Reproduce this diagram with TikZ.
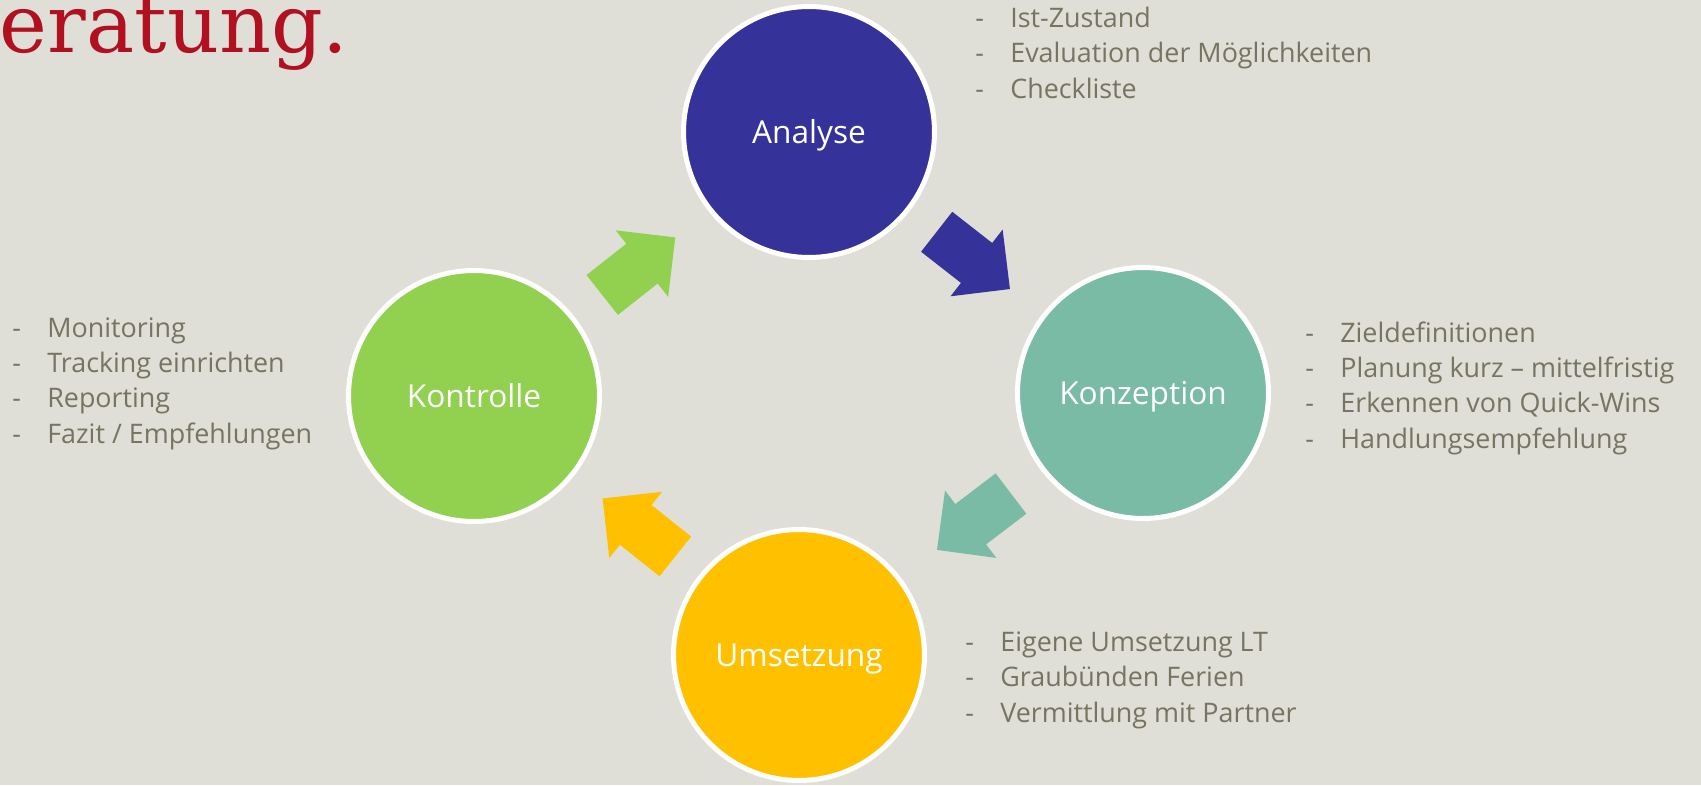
\documentclass[tikz,border=0pt]{standalone}
\usepackage{fontspec}
\setmainfont{Open Sans}
\newfontfamily\titelfont{DejaVu Serif}
\usetikzlibrary{shapes.arrows}

\definecolor{hintergrund}{RGB}{223,222,215}
\definecolor{textgrau}{RGB}{120,116,98}
\definecolor{titelrot}{RGB}{176,16,32}
\definecolor{anablau}{RGB}{53,51,153}
\definecolor{konzgruen}{RGB}{121,187,165}
\definecolor{umsgelb}{RGB}{255,192,0}
\definecolor{kontrgruen}{RGB}{146,208,80}

% dash in front of each list entry
\newcommand{\strich}[1]{\makebox[0.7cm][l]{-}#1}

\begin{document}
\begin{tikzpicture}[x=0.02cm, y=-0.02cm,
  phase/.style={circle, draw=white, line width=0.1cm, minimum size=5.02cm, inner sep=0pt,
    text=white, font=\fontsize{18}{20}\selectfont, text height=12.9pt, text depth=0pt},
  pfeil/.style={single arrow, draw=none, minimum height=1.86cm, inner xsep=0pt, inner ysep=0.5cm,
    single arrow head extend=0.34cm, single arrow tip angle=90, sloped, allow upside down, pos=0.462},
  liste/.style={align=left, anchor=base west, inner sep=0pt, text=textgrau,
    font=\fontsize{15.3}{20}\selectfont}]
\useasboundingbox (0,0) rectangle (1701,785);
\clip (0,0) rectangle (1701,785);
\fill[hintergrund] (0,0) rectangle (1701,785);

% the four phases
\node[phase, fill=anablau] (ana) at (809,132) {Analyse};
\node[phase, fill=konzgruen] (konz) at (1143,393) {Konzeption};
\node[phase, fill=umsgelb] (umsetz) at (799,655) {Umsetzung};
\node[phase, fill=kontrgruen] (kontr) at (474,396) {Kontrolle};

% block arrows between the phases
\path (ana.center) -- node[pfeil, fill=anablau] (p1) {} (konz.center);
\path (konz.center) -- node[pfeil, fill=konzgruen] (p2) {} (umsetz.center);
\path (umsetz.center) -- node[pfeil, fill=umsgelb] (p3) {} (kontr.center);
\path (kontr.center) -- node[pfeil, fill=kontrgruen] (p4) {} (ana.center);

% lists (anchored at the baseline of their last line)
\node[liste] (lana) at (975,98) {\strich{Ist-Zustand}\\ \strich{Evaluation der Möglichkeiten}\\ \strich{Checkliste}};
\node[liste] (lkonz) at (1305,448) {\strich{Zieldefinitionen}\\ \strich{Planung kurz – mittelfristig}\\ \strich{Erkennen von Quick-Wins}\\ \strich{Handlungsempfehlung}};
\node[liste] (lumsetz) at (965,722) {\strich{Eigene Umsetzung LT}\\ \strich{Graubünden Ferien}\\ \strich{Vermittlung mit Partner}};
\node[liste] (lkontr) at (12,443) {\strich{Monitoring}\\ \strich{Tracking einrichten}\\ \strich{Reporting}\\ \strich{Fazit / Empfehlungen}};

% title, cut off at the page edge
\node[anchor=base east, inner sep=0pt, text=titelrot, font=\titelfont\fontsize{46}{50}\selectfont] (titel) at (349,52) {eratung.};
\end{tikzpicture}
\end{document}
